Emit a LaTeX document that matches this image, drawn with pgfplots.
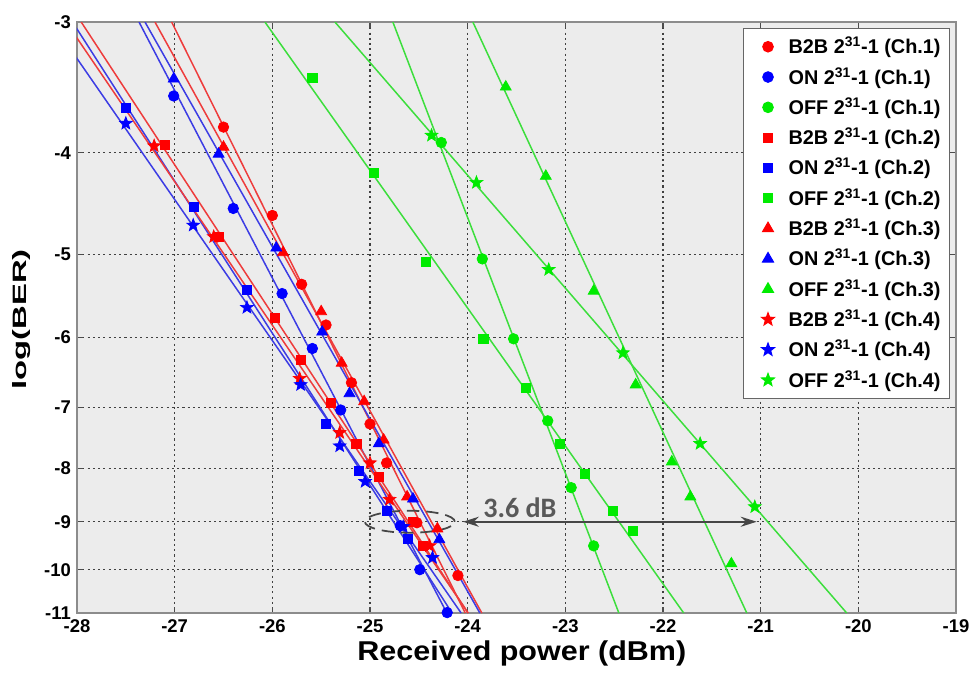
\documentclass[border=0pt]{standalone}
\usepackage{fontspec}
\setmainfont{Liberation Sans}
\newfontfamily\ylabfont[FakeStretch=1.7]{Liberation Sans}
\newfontfamily\xlabfont[FakeStretch=1.12]{Liberation Sans}
\newfontfamily\annfont{Carlito}
\usepackage{pgfplots}
\usepackage{pgfplotstable}
\pgfplotsset{compat=1.18}
\usetikzlibrary{arrows.meta}

\definecolor{pred}{RGB}{255,0,0}
\definecolor{pblue}{RGB}{0,0,255}
\definecolor{pgreen}{RGB}{0,235,0}
\definecolor{lred}{RGB}{238,60,60}
\definecolor{lblue}{RGB}{60,60,228}
\definecolor{lgreen}{RGB}{60,222,60}
\definecolor{bgray}{RGB}{236,236,236}
\definecolor{anngray}{RGB}{70,70,70}

% filled five-pointed star (MATLAB pentagram)
\pgfdeclareplotmark{pentagram}{%
  \pgfpathmoveto{\pgfpointpolar{90}{\pgfplotmarksize}}%
  \pgfpathlineto{\pgfpointpolar{126}{0.42\pgfplotmarksize}}%
  \pgfpathlineto{\pgfpointpolar{162}{\pgfplotmarksize}}%
  \pgfpathlineto{\pgfpointpolar{198}{0.42\pgfplotmarksize}}%
  \pgfpathlineto{\pgfpointpolar{234}{\pgfplotmarksize}}%
  \pgfpathlineto{\pgfpointpolar{270}{0.42\pgfplotmarksize}}%
  \pgfpathlineto{\pgfpointpolar{306}{\pgfplotmarksize}}%
  \pgfpathlineto{\pgfpointpolar{342}{0.42\pgfplotmarksize}}%
  \pgfpathlineto{\pgfpointpolar{18}{\pgfplotmarksize}}%
  \pgfpathlineto{\pgfpointpolar{54}{0.42\pgfplotmarksize}}%
  \pgfpathclose
  \pgfusepathqfillstroke}

% measured points: x = received power (dBm), y = log(BER)
\pgfplotstableread{
x y
-26.50 -3.78
-26.00 -4.59
-25.70 -5.34
-25.45 -5.84
-25.19 -6.63
-25.00 -7.26
-24.83 -7.91
-24.52 -9.02
-24.10 -10.13
}\bA
\pgfplotstableread{
x y
-27.01 -3.53
-26.40 -4.52
-25.90 -5.45
-25.59 -6.15
-25.30 -7.04
-24.69 -9.08
-24.49 -10.00
-24.21 -10.99
}\oA
\pgfplotstableread{
x y
-24.27 -3.91
-23.85 -5.05
-23.53 -6.02
-23.18 -7.21
-22.94 -8.35
-22.71 -9.49
}\fA
\pgfplotstableread{
x y
-27.10 -3.93
-26.55 -4.81
-25.97 -5.75
-25.71 -6.30
-25.40 -6.93
-25.14 -7.58
-24.91 -8.15
-24.56 -9.00
-24.46 -9.49
}\bB
\pgfplotstableread{
x y
-27.50 -3.62
-26.80 -4.50
-26.26 -5.41
-25.45 -7.26
-25.11 -8.05
-24.83 -8.78
-24.61 -9.34
}\oB
\pgfplotstableread{
x y
-25.59 -3.39
-24.96 -4.18
-24.43 -5.08
-23.84 -6.02
-23.40 -6.70
-23.06 -7.58
-22.80 -8.10
-22.51 -8.78
-22.31 -9.18
}\fB
\pgfplotstableread{
x y
-26.50 -3.95
-25.89 -4.98
-25.50 -5.67
-25.29 -6.35
-25.06 -6.91
-24.86 -7.52
-24.62 -8.52
-24.31 -9.14
}\bC
\pgfplotstableread{
x y
-27.01 -3.40
-26.55 -4.01
-25.96 -4.93
-25.49 -5.93
-25.21 -6.79
-24.91 -7.58
-24.56 -8.56
-24.29 -9.36
}\oC
\pgfplotstableread{
x y
-23.61 -3.46
-23.20 -4.21
-22.71 -5.42
-22.28 -6.66
-21.91 -7.89
-21.72 -8.52
-21.30 -9.87
}\fC
\pgfplotstableread{
x y
-27.21 -3.94
-26.60 -4.81
-25.72 -6.57
-25.31 -7.40
-25.00 -7.91
-24.80 -8.57
-24.39 -9.49
}\bD
\pgfplotstableread{
x y
-27.50 -3.75
-26.81 -4.69
-26.26 -5.62
-25.71 -6.66
-25.31 -7.62
-25.05 -8.24
-24.66 -9.10
-24.36 -9.74
}\oD
\pgfplotstableread{
x y
-24.37 -3.85
-23.91 -4.27
-23.17 -5.17
-22.41 -6.21
-21.62 -7.58
-21.06 -8.71
}\fD

% fitted line: power at log(BER)=-3 and at log(BER)=-11
\newcommand{\fitline}[3]{%
  \addplot[#1, line width=0.85pt, forget plot] table[row sep=\\, y expr=-\thisrow{y}] {x y\\ #2 -3\\ #3 -11\\};}

\begin{document}
\begin{tikzpicture}
\begin{axis}[
    width=17.58cm, height=11.82cm, scale only axis,
    xmin=-28, xmax=-19, ymin=3, ymax=11,
    ymode=log, y dir=reverse,
    xtick={-28,-27,-26,-25,-24,-23,-22,-21,-20,-19},
    xticklabels={-28,-27,-26,-25,-24,-23,-22,-21,-20,-19},
    ytick={3,4,5,6,7,8,9,10,11},
    yticklabels={-3,-4,-5,-6,-7,-8,-9,-10,-11},
    grid=major,
    major grid style={draw=black!75, line width=0.6pt, dash pattern=on 1.2pt off 1.8pt},
    axis background/.style={fill=bgray},
    axis line style={draw=black!45, line width=1.2pt},
    tick align=inside, major tick length=0.12cm,
    tick style={black!70, line width=0.6pt},
    ticklabel style={font=\bfseries\fontsize{10.5}{12}\selectfont},
    xlabel={\xlabfont\bfseries Received power (dBm)},
    ylabel={\ylabfont\bfseries log(BER)},
    xlabel style={font=\fontsize{15.5}{18}\selectfont, at={([yshift=-0.8cm]axis cs:-23.445,11)}, anchor=center},
    ylabel style={font=\fontsize{11}{13}\selectfont, at={([xshift=-1.10cm]axis cs:-28,5.77)}, anchor=center},
    legend style={at={(axis cs:-19.065,3.04)}, anchor=north east,
        draw=black!60, fill=white, line width=0.6pt,
        font=\bfseries\fontsize{11.3}{13}\selectfont,
        inner xsep=0.1cm, inner ysep=0.1cm, row sep=0.079cm},
    legend cell align=left,
    legend image code/.code={\path (-0.38cm,0cm) (0.33cm,0cm); \draw[#1] plot coordinates {(0cm,0cm)};},
]
% fitted lines
\fitline{lred}{-27.031}{-24.025}
\fitline{lblue}{-27.365}{-24.213}
\fitline{lgreen}{-24.766}{-22.452}
\fitline{lred}{-27.957}{-23.996}
\fitline{lblue}{-28.046}{-24.160}
\fitline{lgreen}{-26.076}{-21.788}
\fitline{lred}{-27.202}{-23.855}
\fitline{lblue}{-27.304}{-23.875}
\fitline{lgreen}{-23.947}{-21.142}
\fitline{lred}{-28.112}{-23.995}
\fitline{lblue}{-28.259}{-24.067}
\fitline{lgreen}{-25.359}{-20.119}

% measured points
\addplot[only marks, mark=*, mark size=3pt, color=pred] table[y expr=-\thisrow{y}] {\bA};
\addlegendentry{B2B 2\textsuperscript{31}-1 (Ch.1)}
\addplot[only marks, mark=*, mark size=3pt, color=pblue] table[y expr=-\thisrow{y}] {\oA};
\addlegendentry{ON 2\textsuperscript{31}-1 (Ch.1)}
\addplot[only marks, mark=*, mark size=3pt, color=pgreen] table[y expr=-\thisrow{y}] {\fA};
\addlegendentry{OFF 2\textsuperscript{31}-1 (Ch.1)}
\addplot[only marks, mark=square*, mark size=2.6pt, color=pred] table[y expr=-\thisrow{y}] {\bB};
\addlegendentry{B2B 2\textsuperscript{31}-1 (Ch.2)}
\addplot[only marks, mark=square*, mark size=2.6pt, color=pblue] table[y expr=-\thisrow{y}] {\oB};
\addlegendentry{ON 2\textsuperscript{31}-1 (Ch.2)}
\addplot[only marks, mark=square*, mark size=2.6pt, color=pgreen] table[y expr=-\thisrow{y}] {\fB};
\addlegendentry{OFF 2\textsuperscript{31}-1 (Ch.2)}
\addplot[only marks, mark=triangle*, mark size=3.6pt, color=pred] table[y expr=-\thisrow{y}] {\bC};
\addlegendentry{B2B 2\textsuperscript{31}-1 (Ch.3)}
\addplot[only marks, mark=triangle*, mark size=3.6pt, color=pblue] table[y expr=-\thisrow{y}] {\oC};
\addlegendentry{ON 2\textsuperscript{31}-1 (Ch.3)}
\addplot[only marks, mark=triangle*, mark size=3.6pt, color=pgreen] table[y expr=-\thisrow{y}] {\fC};
\addlegendentry{OFF 2\textsuperscript{31}-1 (Ch.3)}
\addplot[only marks, mark=pentagram, mark size=3.8pt, color=pred] table[y expr=-\thisrow{y}] {\bD};
\addlegendentry{B2B 2\textsuperscript{31}-1 (Ch.4)}
\addplot[only marks, mark=pentagram, mark size=3.8pt, color=pblue] table[y expr=-\thisrow{y}] {\oD};
\addlegendentry{ON 2\textsuperscript{31}-1 (Ch.4)}
\addplot[only marks, mark=pentagram, mark size=3.8pt, color=pgreen] table[y expr=-\thisrow{y}] {\fD};
\addlegendentry{OFF 2\textsuperscript{31}-1 (Ch.4)}

% 3.6 dB annotation
\draw[anngray, line width=1pt, dash pattern=on 7pt off 4pt] (axis cs:-24.592,9) ellipse [x radius=0.9cm, y radius=0.22cm];
\draw[{Stealth[length=0.32cm,width=0.2cm]}-{Stealth[length=0.32cm,width=0.2cm]}, anngray, line width=1.3pt]
    (axis cs:-24.049,9) -- (axis cs:-21.040,9);
\node[anchor=base west, inner sep=0pt, text=black!65, font=\annfont\bfseries\fontsize{16}{18}\selectfont]
    at ([yshift=0.08cm]axis cs:-23.844,9) {3.6 dB};

\coordinate (bl) at (axis cs:-28,11);
\coordinate (tr) at (axis cs:-19,3);
\end{axis}
\pgfresetboundingbox
\path[use as bounding box] ([shift={(-1.54cm,-1.22cm)}]bl) rectangle ([shift={(0.26cm,0.44cm)}]tr);
\end{tikzpicture}
\end{document}
